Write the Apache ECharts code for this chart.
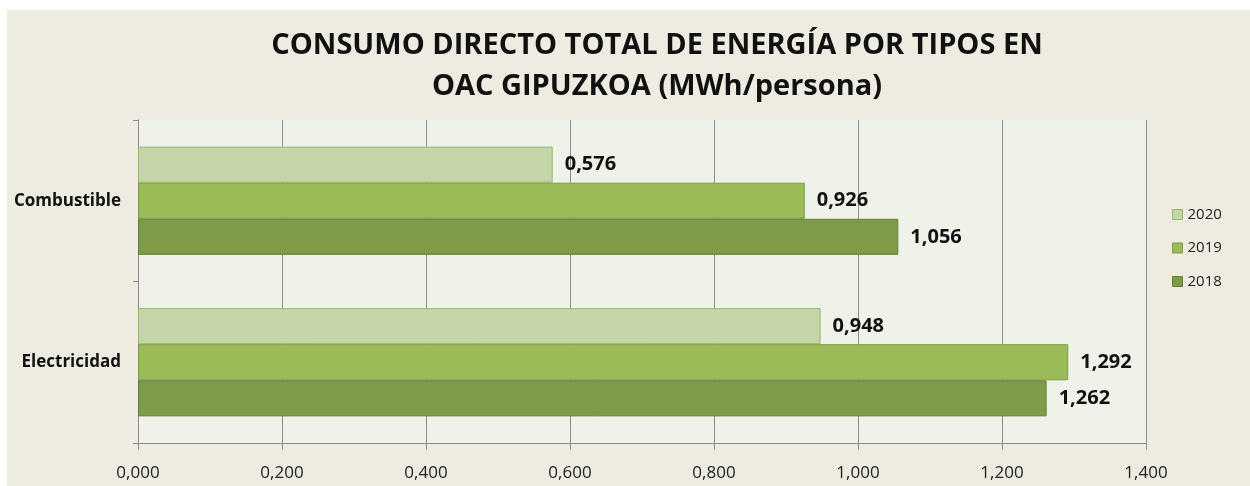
<!DOCTYPE html>
<html>
<head>
    <meta charset="utf-8">
    <title>ECharts</title>
    <script src="https://cdn.jsdelivr.net/npm/echarts@6/dist/echarts.min.js"></script>
    <style>
        body { margin: 0; background: #ffffff; }
        #main { position: absolute; left: 7px; top: 10px; width: 1243px; height: 476px; }
    </style>
</head>
<body>
<div id="main"></div>
<script type="text/javascript">
    // datos
    var categorias = ['Combustible', 'Electricidad'];
    var anos = ['2020', '2019', '2018'];
    var v2020 = [0.576, 0.948];
    var v2019 = [0.926, 1.292];
    var v2018 = [1.056, 1.262];
    var colores = ['#C4D6A7', '#9BBB59', '#7E9B48'];
    var bordes = ['#9AB46E', '#7F9C45', '#667F38'];

    var myChart = echarts.init(document.getElementById('main'));

    function coma(v) {
        return v.toFixed(3).replace('.', ',');
    }

    var valores = [v2020, v2019, v2018];
    var series = anos.map(function (a, i) {
        return {
            name: a,
            type: 'bar',
            data: valores[i],
            barGap: '0%',
            barCategoryGap: '33%',
            itemStyle: { color: colores[i], borderColor: bordes[i], borderWidth: 1 },
            label: {
                show: true,
                position: 'right',
                distance: 12,
                color: '#111',
                fontWeight: 'bold',
                fontSize: 20,
                fontFamily: 'Open Sans',
                formatter: function (p) { return coma(p.value); }
            }
        };
    });

    var option = {
        backgroundColor: '#EEEBE1',
        animation: false,
        title: {
            text: 'CONSUMO DIRECTO TOTAL DE ENERGÍA POR TIPOS EN\nOAC GIPUZKOA (MWh/persona)',
            left: 645,
            top: 10,
            textAlign: 'center',
            textStyle: {
                fontFamily: 'Open Sans',
                fontWeight: 'bold',
                fontSize: 29,
                lineHeight: 41,
                color: '#111'
            }
        },
        legend: {
            orient: 'vertical',
            left: 1160,
            top: 192,
            itemWidth: 10,
            itemHeight: 10,
            itemGap: 18.5,
            itemStyle: { borderWidth: 1 },
            icon: 'rect',
            textStyle: { fontSize: 15, color: '#222', fontFamily: 'Open Sans' },
            data: anos
        },
        grid: {
            left: 131,
            right: 104,
            top: 110,
            bottom: 43,
            show: true,
            backgroundColor: '#EFF2E9',
            borderWidth: 0
        },
        xAxis: {
            type: 'value',
            min: 0,
            max: 1.4,
            interval: 0.2,
            axisLine: { show: true, lineStyle: { color: '#8c8c8c' } },
            axisTick: { show: true, length: 7, lineStyle: { color: '#8c8c8c' } },
            splitLine: { show: true, lineStyle: { color: '#8c8c8c', width: 1 } },
            axisLabel: {
                color: '#222',
                fontSize: 17,
                fontFamily: 'Open Sans',
                margin: 22,
                formatter: function (v) { return coma(v); }
            }
        },
        yAxis: {
            type: 'category',
            inverse: true,
            data: categorias,
            axisLine: { show: true, lineStyle: { color: '#8c8c8c' } },
            axisTick: { show: true, length: 5, lineStyle: { color: '#8c8c8c' } },
            axisLabel: {
                color: '#111',
                fontWeight: 'bold',
                fontSize: 17,
                fontFamily: 'Open Sans',
                margin: 17
            }
        },
        series: series
    };

    myChart.setOption(option);
</script>
</body>
</html>
